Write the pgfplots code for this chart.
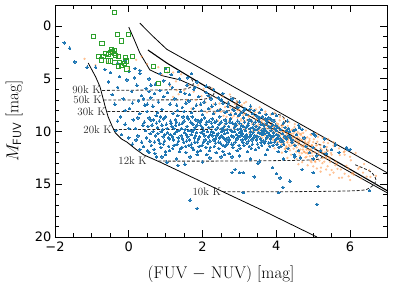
\documentclass[border=0pt]{standalone}
\usepackage{pgfplots}
\pgfplotsset{compat=1.18}
\usepackage{fontspec}
\newfontfamily\dejavu{DejaVu Sans}
\definecolor{tabblue}{RGB}{31,119,180}
\definecolor{taborange}{RGB}{255,150,70}
\definecolor{tabgreen}{RGB}{44,160,44}
\begin{document}
\begin{tikzpicture}
\begin{axis}[
  scale only axis, width=332bp, height=232bp,
  xmin=-2, xmax=7, ymin=-2, ymax=20, y dir=reverse,
  xtick={-2,0,2,4,6}, xticklabels={−2,0,2,4,6},
  ytick={0,5,10,15,20}, yticklabels={0,5,10,15,20},
  minor x tick num=3, minor y tick num=4,
  tick align=inside,
  major tick length=7bp, minor tick length=4bp,
  every tick/.style={black, line width=0.8pt},
  axis line style={line width=0.8pt},
  tick label style={font=\dejavu\fontsize{13}{15}\selectfont},
  xticklabel style={yshift=-1bp},
  xlabel={(FUV $-$ NUV) [mag]},
  ylabel={$M_{\mathsf{FUV}}$ [mag]},
  label style={font=\fontsize{17}{19}\selectfont},
  xlabel style={at={(axis description cs:0.5,-0.177)}, anchor=base},
  ylabel style={at={(axis description cs:-0.11,0.5)}, anchor=base},
  clip=true,
  isotherm/.style={black!85, line width=0.8pt, dash pattern=on 3pt off 1.8pt, smooth},
]
% orange (faint) population
\addplot[only marks, mark=*, mark size=1.0pt, color=taborange, opacity=0.45, mark options={draw=none}] coordinates {
(1.05,4.38)(1.12,5.69)(1.2,6.72)(1.28,5.25)(1.35,6.46)(1.42,4.57)(1.5,6.1)(1.57,7.01)(1.63,5.61)(1.7,7.82)(1.76,6.22)(1.82,7.01)(1.88,5.61)(1.93,7.49)(1.97,6.65)(1.3,6.08)
(2.03,5.95)(2.08,7.23)(2.12,8.19)(2.17,6.67)(2.21,7.84)(2.26,5.92)(2.3,7.38)(2.34,8.24)(2.38,6.81)(2.42,8.97)(2.46,7.34)(2.5,8.1)(2.54,6.66)(2.57,8.51)(2.61,7.68)(2.64,8.22)(2.68,7.19)(2.71,9.04)(2.74,6.48)(2.77,8.23)(2.8,8.68)(2.83,7.83)(2.86,9.48)(2.88,7.41)(2.91,8.26)(2.93,7.19)(2.95,8.67)(2.97,9.3)(2.99,7.93)(2.6,9.36)
(3.02,8.23)(3.04,8.96)(3.06,7.5)(3.08,9.33)(3.1,8.46)(3.12,8.99)(3.14,7.92)(3.16,9.76)(3.18,7.19)(3.2,8.92)(3.22,9.35)(3.24,8.48)(3.26,10.12)(3.28,8.05)(3.3,8.88)(3.32,7.81)(3.34,9.29)(3.36,9.93)(3.38,8.56)(3.4,10.64)(3.42,8.17)(3.44,9.4)(3.46,10.34)(3.48,8.77)(3.5,9.9)(3.13,7.31)(3.27,8.93)(3.41,9.96)
(3.51,8.18)(3.52,9.31)(3.54,9.98)(3.55,8.8)(3.57,10.51)(3.58,9.17)(3.6,9.76)(3.61,8.58)(3.63,10.05)(3.64,9.34)(3.66,9.78)(3.67,8.91)(3.69,10.38)(3.7,8.32)(3.72,9.71)(3.73,10.05)(3.75,9.36)(3.76,10.66)(3.78,9.01)(3.79,9.66)(3.81,8.82)(3.82,9.99)(3.84,10.5)(3.85,9.4)(3.87,11.07)(3.88,9.09)(3.9,10.08)(3.91,10.82)(3.93,9.57)(3.94,10.46)(3.96,8.9)(3.97,10.03)(3.99,10.7)(3.56,8.82)(3.62,10.59)(3.68,9.23)(3.74,9.98)(3.8,8.98)(3.86,10.42)(3.92,9.79)
(4.01,9.22)(4.02,10.67)(4.03,9.97)(4.05,10.4)(4.06,9.54)(4.07,10.99)(4.09,8.94)(4.1,10.32)(4.11,10.66)(4.13,9.97)(4.14,11.26)(4.15,9.6)(4.17,10.27)(4.18,9.41)(4.19,10.58)(4.21,11.1)(4.22,9.99)(4.23,11.65)(4.25,9.68)(4.26,10.66)(4.27,11.39)(4.29,10.14)(4.3,11.04)(4.31,9.46)(4.33,10.61)(4.34,11.26)(4.35,10.08)(4.37,11.79)(4.38,10.45)(4.39,11.02)(4.41,9.86)(4.42,11.31)(4.43,10.61)(4.45,11.04)(4.46,10.18)(4.47,11.63)(4.49,9.58)(4.04,10.22)(4.12,10.67)(4.2,10.08)(4.28,11.49)(4.36,9.94)(4.44,10.7)(4.16,9.38)(4.32,10.79)
(4.51,11.3)(4.52,10.59)(4.54,11.9)(4.55,10.24)(4.57,10.91)(4.58,10.05)(4.6,11.24)(4.61,11.74)(4.63,10.65)(4.64,12.3)(4.66,10.34)(4.67,11.31)(4.69,12.06)(4.7,10.8)(4.72,11.71)(4.73,10.13)(4.75,11.28)(4.76,11.94)(4.78,10.77)(4.79,12.46)(4.81,11.14)(4.82,11.71)(4.84,10.54)(4.85,12.0)(4.87,11.31)(4.88,11.73)(4.9,10.88)(4.91,12.34)(4.93,10.29)(4.94,11.66)(4.96,12.02)(4.97,11.31)(4.99,12.62)(4.56,10.26)(4.62,10.99)(4.68,10.21)(4.74,11.46)(4.8,12.04)(4.86,11.02)(4.92,12.75)
(5.02,10.73)(5.04,11.96)(5.06,12.89)(5.08,11.32)(5.1,12.45)(5.13,10.5)(5.15,11.93)(5.17,12.76)(5.19,11.29)(5.21,13.42)(5.24,11.76)(5.26,12.49)(5.28,11.02)(5.3,12.85)(5.32,11.98)(5.35,12.53)(5.37,11.46)(5.39,13.29)(5.41,10.72)(5.43,12.45)(5.46,12.89)(5.48,12.02)(5.5,13.65)(5.11,10.97)(5.33,12.1)
(5.55,11.33)(5.6,12.85)(5.66,13.54)(5.72,12.23)(5.78,14.37)(5.83,11.95)(5.9,13.25)(5.96,14.24)(6.02,12.73)(6.08,13.92)(6.15,12.03)(6.22,13.53)(6.3,14.45)(6.38,13.07)(6.45,14.28)(6.52,13.68)(5.64,13.06)(5.85,11.88)(6.05,13.98)(6.25,13.38)
(0.2,3.2)(0.5,3.6)(0.8,3.9)(-0.3,2.8)(-0.6,3.4)(1.2,4.4)(0.0,4.0)(-0.9,3.7)(0.35,2.9)(0.9,4.6)(-1.2,3.1)(-0.45,2.5)
(3.85,9.9)(3.9,10.6)(3.95,9.5)(4.0,10.3)(4.02,11.0)(4.08,9.8)(4.1,10.5)(4.15,11.2)(4.18,10.0)(4.2,10.7)(4.24,9.7)(4.28,10.3)(4.3,11.0)(4.33,10.6)(4.36,11.4)(4.4,10.2)(4.42,10.9)(4.45,10.4)(4.48,11.2)(4.5,10.0)(4.52,10.8)(4.55,11.5)(4.58,10.5)(4.6,11.0)(4.63,10.2)(4.65,11.7)(4.68,10.8)(4.7,11.4)(4.72,10.5)(4.75,11.9)(4.78,11.0)(4.8,10.6)(4.83,11.5)(4.86,12.1)(4.88,11.1)(4.9,10.7)(4.93,11.8)(4.96,11.3)(4.98,12.3)(5.0,11.0)(5.05,11.6)(5.1,11.3)(5.15,12.2)(5.2,11.6)(5.25,12.0)(5.3,11.5)(5.35,12.4)(5.4,11.8)(5.45,12.6)(5.5,12.2)(3.7,9.4)(3.75,10.1)(3.6,9.0)(3.65,9.7)(3.5,9.5)(3.45,8.9)(3.35,9.1)(3.25,8.6)(3.15,8.3)(3.05,8.8)(2.95,8.0)(2.85,8.5)(2.75,7.7)(2.65,8.6)(2.55,7.3)(2.45,7.9)(4.05,9.3)(4.25,11.6)(4.45,9.8)(4.62,12.0)(4.82,12.4)(5.05,12.8)(5.25,13.0)(5.6,13.2)(5.75,13.6)(5.95,13.5)(6.1,14.1)(6.35,13.9)(6.55,14.3)(6.7,14.2)
(4.55,12.6)(4.7,12.9)(4.85,13.2)(4.95,12.9)(5.1,13.5)(5.2,13.8)(5.35,13.6)(5.45,14.1)(5.55,13.9)(5.7,14.4)(5.85,14.0)(6.0,14.6)(5.0,13.3)(4.6,13.1)(4.4,12.2)(4.3,12.5)(4.15,12.0)(3.95,11.6)(3.8,11.3)(3.65,10.9)
(3.3,7.6)(3.45,7.9)(3.55,7.7)(3.7,8.1)(3.85,8.4)(3.95,8.2)(4.1,8.6)(4.2,8.8)(4.35,9.1)(4.5,9.3)(4.65,9.6)(4.8,9.9)(4.95,10.3)(5.1,10.2)(5.25,10.6)(5.4,11.1)(5.55,11.0)(5.7,11.6)(5.85,12.2)(6.0,12.4)
};
% blue population
\addplot[only marks, mark=*, mark size=1.25pt, color=tabblue, mark options={line width=0pt}] coordinates {
(0.42,9.1)(0.48,10.6)(0.55,8.7)(0.61,11.3)(0.45,9.9)(0.58,10.2)(0.63,9.4)(0.51,11.8)
(0.67,8.9)(0.72,10.4)(0.78,9.6)(0.84,11.1)(0.69,11.7)(0.88,10.0)(0.75,9.2)(0.81,10.8)(0.86,8.6)(0.71,12.1)
(0.92,9.8)(0.97,10.9)(1.02,9.3)(1.08,11.4)(1.12,10.3)(0.95,8.8)(1.05,10.1)(1.13,9.0)(0.99,11.9)(1.10,10.7)(0.93,10.5)
(1.17,9.5)(1.21,10.8)(1.26,8.9)(1.31,11.2)(1.36,9.9)(1.19,11.6)(1.24,10.2)(1.29,9.1)(1.34,10.6)(1.38,11.9)(1.22,9.7)(1.33,8.5)
(1.42,10.4)(1.45,9.2)(1.49,11.0)(1.53,9.8)(1.57,10.9)(1.61,8.8)(1.44,11.5)(1.51,10.1)(1.58,9.5)(1.63,11.3)(1.47,8.6)(1.55,12.0)(1.60,10.5)
(1.67,9.9)(1.70,11.2)(1.74,9.3)(1.78,10.6)(1.82,8.9)(1.86,11.0)(1.69,10.3)(1.76,11.7)(1.80,9.6)(1.84,10.1)(1.88,9.0)(1.72,8.6)(1.87,11.9)
(1.92,10.5)(1.95,9.4)(1.99,11.3)(2.03,9.9)(2.07,10.8)(2.11,9.1)(1.94,11.8)(2.01,10.2)(2.05,8.7)(2.09,11.5)(2.13,10.0)(1.97,8.9)(2.12,12.2)
(2.17,9.6)(2.20,10.9)(2.24,9.2)(2.28,10.4)(2.32,11.4)(2.36,9.8)(2.19,11.8)(2.26,8.8)(2.30,10.1)(2.34,10.7)(2.38,9.0)(2.22,10.3)(2.37,12.0)
(2.42,10.2)(2.45,9.3)(2.49,11.1)(2.53,9.7)(2.57,10.6)(2.61,8.9)(2.44,11.6)(2.51,10.0)(2.55,11.9)(2.59,9.5)(2.63,10.8)(2.47,8.6)(2.62,11.4)
(2.67,9.8)(2.70,11.0)(2.74,9.1)(2.78,10.4)(2.82,11.5)(2.86,9.6)(2.69,10.6)(2.76,8.8)(2.80,10.0)(2.84,11.2)(2.88,9.3)(2.72,12.1)
(2.92,10.3)(2.95,9.0)(2.99,11.3)(3.03,9.7)(3.07,10.8)(3.11,8.7)(2.94,11.8)(3.01,10.1)(3.05,9.4)(3.09,11.0)(3.13,10.5)(2.97,8.5)
(3.17,9.9)(3.20,11.1)(3.24,9.2)(3.28,10.5)(3.32,11.6)(3.36,9.6)(3.19,10.3)(3.26,8.9)(3.30,10.0)(3.34,10.8)(3.38,9.3)(3.22,11.9)
(3.42,10.4)(3.45,9.5)(3.49,11.2)(3.53,9.0)(3.57,10.7)(3.61,9.9)(3.44,11.7)(3.51,10.1)(3.55,8.7)(3.59,11.0)(3.63,10.3)
(3.67,9.7)(3.70,10.9)(3.74,9.2)(3.78,10.4)(3.82,11.4)(3.86,9.9)(3.69,10.2)(3.76,11.7)(3.80,9.5)(3.84,10.7)(3.88,8.9)
(3.92,10.1)(3.95,11.0)(3.99,9.4)(4.03,10.6)(4.07,11.5)(4.11,9.8)(3.94,9.0)(4.01,10.3)(4.05,11.9)(4.13,10.9)
(4.17,10.2)(4.20,11.2)(4.24,9.6)(4.28,10.7)(4.32,11.6)(4.36,10.0)(4.19,9.2)(4.26,11.9)(4.34,10.4)
(4.42,10.8)(4.46,9.9)(4.50,11.3)(4.55,10.3)(4.60,11.8)(4.63,9.6)(4.48,12.2)
(0.52,9.5)(0.57,10.9)(0.6,8.9)(0.66,10.0)(0.7,11.0)(0.74,8.5)(0.79,10.2)(0.83,9.0)(0.87,11.5)(0.9,9.4)(0.94,11.2)(0.98,10.3)(1.0,8.6)(1.04,9.7)(1.07,10.6)(1.11,11.8)(1.15,9.2)(1.18,10.5)(1.23,11.3)(1.27,9.4)(1.3,10.0)(1.35,10.9)(1.37,9.3)(1.4,11.6)(1.43,9.7)(1.46,10.7)(1.5,9.0)(1.54,11.4)(1.56,10.3)(1.59,8.6)(1.62,9.9)(1.65,10.8)(1.68,9.1)(1.71,11.5)(1.73,10.0)(1.77,9.8)(1.79,11.0)(1.81,10.4)(1.85,9.4)(1.89,10.7)(1.91,11.4)(1.93,9.1)(1.96,10.1)(2.0,9.6)(2.02,11.0)(2.06,10.4)(2.1,9.3)(2.14,11.1)(2.16,10.5)(2.18,9.0)(2.21,11.5)(2.25,10.0)(2.27,9.5)(2.31,10.8)(2.33,9.1)(2.35,11.1)(2.39,10.4)(2.41,9.6)(2.43,11.0)(2.46,10.6)(2.5,9.1)(2.52,10.4)(2.56,11.3)(2.58,9.9)(2.6,10.2)(2.64,9.2)(2.66,11.2)(2.68,10.1)(2.71,9.5)(2.73,10.8)(2.77,9.9)(2.79,11.2)(2.81,9.2)(2.83,10.5)(2.87,10.0)(2.89,11.0)(2.91,9.4)(2.93,10.7)(2.96,9.8)(2.98,10.5)(3.0,9.2)(3.02,11.6)(3.04,10.4)(3.06,9.9)(3.08,10.2)(3.1,9.5)(3.12,11.3)(3.14,9.1)(3.16,10.7)(3.18,9.6)(3.21,10.5)(3.23,9.4)(3.25,10.9)(3.27,11.4)(3.29,9.7)(3.31,10.3)(3.33,9.0)(3.35,11.2)(3.37,10.1)(3.39,10.6)(3.41,9.8)(3.43,9.1)(3.46,10.8)(3.48,9.8)(3.5,10.5)(3.52,11.5)(3.54,9.6)(3.56,10.2)(3.58,9.3)(3.6,11.3)(3.62,10.0)(3.64,10.9)(3.66,9.4)(3.68,11.1)(3.71,9.9)(3.73,10.6)(3.75,9.0)(3.77,10.1)(3.79,11.1)(3.81,10.3)(3.83,9.6)(3.85,11.0)(3.87,10.5)(3.89,9.4)(3.91,11.3)(3.93,10.4)(3.96,9.7)(3.98,10.8)(4.0,9.9)(4.02,11.2)(4.04,9.6)(4.06,10.4)(4.1,10.7)(4.12,11.4)(4.18,10.9)(4.23,10.5)(4.27,9.9)(4.33,9.7)(4.38,10.6)(4.43,11.0)(4.52,9.8)
(0.95,5.2)(1.05,6.3)(1.12,7.4)(1.18,5.8)(1.25,6.9)(1.32,8.0)(1.38,5.0)(1.45,7.7)(1.52,6.4)(1.58,5.6)(1.63,7.1)(1.70,8.2)(1.76,6.0)(1.83,7.5)(1.90,6.7)(1.97,8.0)(2.04,7.2)(2.10,6.3)(2.16,7.8)(2.23,6.9)(2.29,8.3)(2.35,7.4)(2.42,6.8)(2.48,7.9)(2.55,7.3)(2.61,8.2)(2.68,7.6)(2.75,8.4)(2.82,7.9)(2.89,8.3)(2.96,7.7)(3.05,8.2)(3.12,8.0)(3.2,8.4)(3.28,7.9)(3.36,8.3)(3.45,8.5)(3.55,8.2)(3.62,8.6)(3.72,8.4)(3.8,8.7)(3.9,8.3)(1.15,4.6)(1.35,4.3)(1.6,4.9)(1.85,5.3)(2.1,5.7)(2.3,6.0)(2.55,6.4)(2.8,6.9)(3.0,7.2)(3.3,7.6)(0.85,4.5)(1.0,4.0)(1.7,4.5)
(0.6,5.6)(0.7,6.4)(0.8,7.2)(0.9,7.9)(0.95,6.7)(1.1,5.5)(1.2,8.3)(1.3,7.5)(1.4,6.2)(1.5,8.1)(1.55,7.3)(1.65,6.5)(1.75,7.8)(1.8,5.8)(1.95,7.4)(2.0,8.4)(2.15,6.6)(2.25,7.6)(2.4,8.0)(2.5,7.0)(2.65,8.1)(2.7,7.3)(2.85,8.0)(3.0,8.4)(3.15,7.8)(3.4,8.0)(3.5,8.6)(3.7,8.8)(0.4,6.9)(0.5,7.4)(0.55,6.2)(0.25,8.7)(0.1,7.3)(-0.1,8.0)(-0.3,9.0)(0.0,9.7)(0.2,10.8)(0.4,11.4)(0.55,12.0)(0.9,12.4)
(3.6,7.9)(4.0,8.5)(4.3,9.0)(4.6,9.4)(5.0,10.2)(5.3,10.7)(5.6,11.2)
(4.7,9.8)(4.75,10.6)(4.8,11.4)(4.9,12.0)(5.0,11.5)(5.05,10.4)(5.1,12.3)(5.2,11.8)(5.3,11.4)(5.35,12.1)(5.5,11.7)(5.6,11.3)(5.7,12.0)(5.9,11.5)(6.0,11.7)(4.65,12.5)(5.0,12.6)
(-0.55,5.3)(-0.45,6.5)(-0.38,7.4)(-0.3,5.8)(-0.22,8.6)(-0.15,6.9)(-0.1,9.3)(-0.05,5.1)(0.02,7.8)(0.08,6.2)(0.12,8.9)(0.18,9.7)(0.22,5.6)(0.27,7.1)(0.3,8.3)(0.35,6.6)(0.38,9.4)(0.43,7.5)(0.47,5.9)(0.5,8.1)(-0.5,4.4)(-0.25,4.8)(0.0,4.3)(0.15,4.9)(0.3,4.5)(0.55,5.0)(0.6,6.8)(0.65,7.6)(0.72,5.5)(0.78,8.2)(0.84,6.1)(-0.35,9.9)(-0.2,10.3)(0.0,10.6)(0.1,11.2)(0.25,10.4)(0.3,11.7)(0.35,11.0)
(-1.75,1.6)(-1.6,2.1)(-1.46,3.4)(-1.13,3.9)(-0.3,3.5)(-0.1,3.3)(0.17,4.0)(0.3,4.2)(-0.9,3.9)(-0.65,4.1)
(0.75,12.4)(1.0,12.2)(1.3,12.6)(1.52,13.1)(1.03,12.9)(1.33,13.2)(1.66,12.4)(1.85,12.2)(2.2,12.5)(2.5,12.4)(2.8,13.9)(2.88,13.6)(3.0,13.9)(3.1,13.9)(3.4,14.3)(3.1,15.8)(1.66,16.5)(1.85,17.3)(3.9,13.4)(4.0,14.0)(4.1,14.4)(4.37,14.7)(4.7,13.6)(5.0,13.9)(5.13,15.2)(4.18,15.3)(4.07,15.8)(5.1,16.9)(6.53,15.6)(5.94,11.7)(3.3,12.6)(3.7,12.2)(4.2,12.6)(4.5,12.4)(2.0,12.9)(2.6,12.2)(3.0,12.3)(3.5,13.0)(2.8,12.4)(3.55,12.8)
};
% green squares
\addplot[only marks, mark=square, mark size=2.1pt, color=tabgreen, mark options={line width=0.7pt}] coordinates {
(-0.4,-1.3)(-0.97,1.0)(-0.73,1.6)(-0.30,0.8)(-0.02,0.8)(-0.21,1.4)(-0.48,2.2)(-0.45,2.4)(-0.40,2.6)(-0.50,2.5)(-0.62,2.6)(-0.83,2.9)(-0.70,2.9)(-0.56,2.7)(-0.37,2.8)(-0.28,2.9)(-0.10,2.95)(0.09,2.9)(-0.56,3.3)(-0.38,3.45)(-0.25,3.45)(-0.07,3.3)(-0.12,3.5)(-0.28,3.8)(-0.05,4.05)(-0.75,3.2)(-0.50,3.3)(-0.20,3.7)(-0.40,2.3)(0.66,3.8)(1.03,4.15)(0.8,5.4)
};
% solid tracks
\addplot[black, line width=0.8pt] coordinates {(-1.1,3.5)(-0.9,4.8)(-0.78,5.75)(-0.65,7.5)(-0.56,8.6)(-0.45,9.5)(-0.37,10.1)(-0.2,10.7)(-0.05,11.0)(0.2,11.7)(0.4,12.2)(0.85,12.9)(2,14.8)(3.64,17.5)(5.1,20)};
\addplot[black, line width=0.8pt] coordinates {(0.30,-0.28)(0.65,0.95)(1.03,2.2)(7,13.9)};
\addplot[black, line width=0.8pt] coordinates {(0.0,0.1)(0.15,1.3)(0.3,2.55)(0.57,4.15)(0.9,4.7)(1.39,5.1)(1.93,5.95)(3.83,9.6)(7,15.8)};
\addplot[black, line width=1.1pt] coordinates {(0.52,2.27)(1.03,3.5)(1.93,5.4)(3.83,9.2)(7,15.6)};
% dashed isotherms
\addplot[isotherm] coordinates {(-0.72,6.1)(0,6.08)(1.0,6.05)(1.45,6.0)(1.65,5.85)(1.75,5.5)(1.7,5.0)(1.55,4.6)};
\addplot[isotherm] coordinates {(-0.68,7.0)(0.5,7.0)(1.8,6.98)(2.15,6.85)(2.3,6.5)(2.3,6.0)(2.15,5.7)};
\addplot[isotherm] coordinates {(-0.58,8.1)(1.0,8.1)(2.6,8.05)(2.85,7.85)(2.95,7.4)(2.9,6.9)(2.75,6.7)};
\addplot[isotherm] coordinates {(-0.4,9.8)(1.5,9.8)(3.7,9.75)(4.1,9.5)(4.25,9.0)(4.15,8.5)(3.95,8.3)};
\addplot[isotherm] coordinates {(0.8,12.8)(2.5,12.8)(4.9,12.7)(5.25,12.4)(5.38,11.9)(5.3,11.4)(5.05,11.1)};
\addplot[isotherm] coordinates {(2.55,15.7)(4.5,15.7)(6.2,15.6)(6.55,15.3)(6.7,14.6)(6.55,13.8)(6.1,13.1)};
% isotherm labels
\begin{scope}[every node/.style={anchor=east, inner sep=1pt, text=black!85, font=\fontsize{11}{12}\selectfont}]
\node at (axis cs:-0.73,6.05) {90k K};
\node at (axis cs:-0.70,7.0) {50k K};
\node at (axis cs:-0.59,8.1) {30k K};
\node at (axis cs:-0.43,9.8) {20k K};
\node at (axis cs:0.52,12.75) {12k K};
\node at (axis cs:2.53,15.7) {10k K};
\end{scope}
\end{axis}
\pgfresetboundingbox
\path[use as bounding box] (-55bp,-45bp) rectangle (340bp,237bp);
\end{tikzpicture}
\end{document}
